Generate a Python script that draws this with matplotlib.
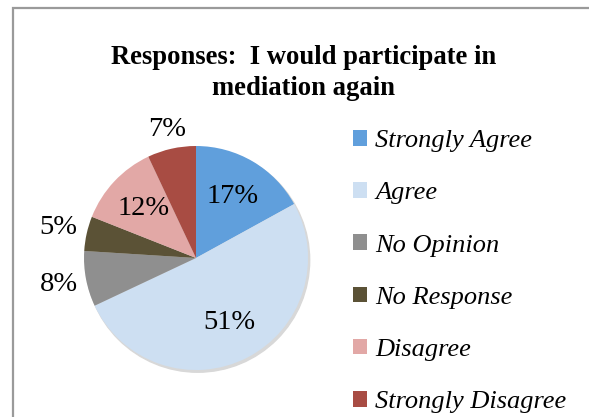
import numpy as np
import matplotlib
matplotlib.use("Agg")
import matplotlib.pyplot as plt
from matplotlib.patches import Rectangle, Patch

plt.rcParams["font.family"] = ["Liberation Serif", "DejaVu Serif"]

labels = ["Strongly Agree", "Agree", "No Opinion", "No Response", "Disagree", "Strongly Disagree"]
values = [17, 51, 8, 5, 12, 7]
pct_text = ["17%", "51%", "8%", "5%", "12%", "7%"]
colors = ["#609FDC", "#CDDFF2", "#8F8F8F", "#5B5236", "#E2A8A6", "#A84C43"]

# radial position of each percentage label (fraction of radius)
label_r = [0.64, 0.65, 1.25, 1.26, 0.64, 1.18]

W, H = 589, 417
fig = plt.figure(figsize=(W / 100, H / 100), dpi=100)

# gray chart frame (right/bottom edges run off the picture)
fig.patches.append(Rectangle((13 / W, -0.1), 1.2, 1 - 8 / H + 0.1, transform=fig.transFigure,
                             fill=False, edgecolor="#9a9a9a", linewidth=1.6))

fig.text(304 / W, 1 - 45 / H, "Responses:  I would participate in\nmediation again",
         ha="center", va="top", fontsize=19.2, fontweight="bold", linespacing=1.3)

cx, cy, R = 196, 258, 112
half = 160
ax = fig.add_axes([(cx - half) / W, (H - cy - half) / H, 2 * half / W, 2 * half / H])

# faint shadow
ax.add_patch(plt.Circle((0.015, -0.02), 1.0, color="#d8d8d8", zorder=0))

wedges, _ = ax.pie(values, colors=colors, startangle=90, counterclock=False, radius=1.0,
                   wedgeprops=dict(linewidth=0))
lim = half / R
ax.set_xlim(-lim, lim)
ax.set_ylim(-lim, lim)
ax.axis("off")

for w, t, r in zip(wedges, pct_text, label_r):
    ang = np.deg2rad((w.theta1 + w.theta2) / 2)
    ax.text(r * np.cos(ang), r * np.sin(ang), t, ha="center", va="center", fontsize=20.5)

handles = [Patch(facecolor=c, edgecolor="none") for c in colors]
fig.legend(handles, labels, loc="upper left", bbox_to_anchor=(353 / W, 1 - 130 / H),
           frameon=False, prop=dict(size=19, style="italic"), handlelength=0.53,
           handleheight=0.53, handletextpad=0.32, labelspacing=1.14, borderpad=0,
           borderaxespad=0)

fig.savefig("out.png", dpi=100)
